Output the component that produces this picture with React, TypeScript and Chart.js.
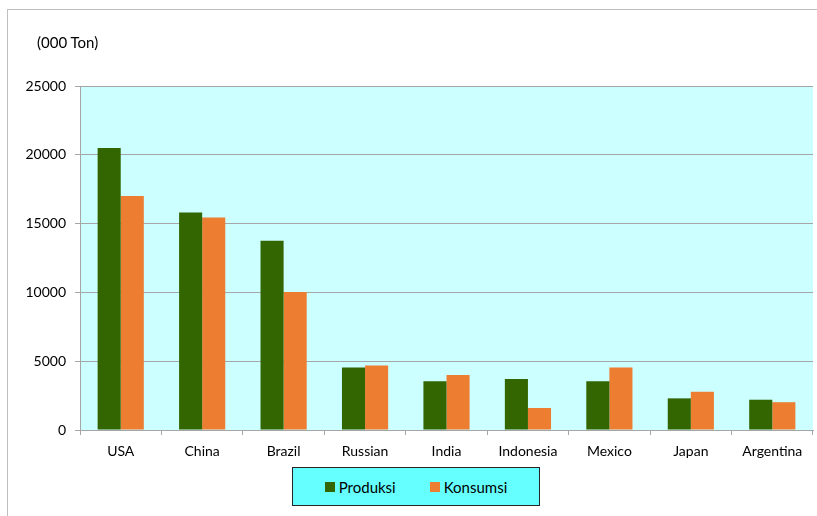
import React, { useEffect, useRef } from "react";
import { Chart, registerables } from "chart.js";

Chart.register(...registerables);

const categories = ["USA", "China", "Brazil", "Russian", "India", "Indonesia", "Mexico", "Japan", "Argentina"];
const produksi = [20500, 15800, 13750, 4550, 3550, 3700, 3550, 2300, 2200];
const konsumsi = [17000, 15450, 10030, 4680, 4000, 1600, 4550, 2780, 2020];
const seriesNames = ["Produksi", "Konsumsi"];
const seriesColors = ["#336600", "#ED7D31"];
const yTicks = [0, 5000, 10000, 15000, 20000, 25000];
const yTitle = "(000 Ton)";

const FONT = "Lato, 'Open Sans', sans-serif";

export default function App() {
  const ref = useRef<HTMLCanvasElement | null>(null);

  useEffect(() => {
    if (!ref.current) return;
    const bgPlugin = {
      id: "plotBg",
      beforeDraw(chart: any) {
        const { ctx, chartArea } = chart;
        ctx.save();
        ctx.fillStyle = "#CCFFFF";
        ctx.fillRect(chartArea.left, chartArea.top, chartArea.right - chartArea.left, chartArea.bottom - chartArea.top);
        ctx.restore();
      },
    };
    const chart = new Chart(ref.current, {
      type: "bar",
      data: {
        labels: categories,
        datasets: [
          { label: seriesNames[0], data: produksi, backgroundColor: seriesColors[0], categoryPercentage: 0.567, barPercentage: 1.0 },
          { label: seriesNames[1], data: konsumsi, backgroundColor: seriesColors[1], categoryPercentage: 0.567, barPercentage: 1.0 },
        ],
      },
      options: {
        responsive: false,
        animation: false,
        devicePixelRatio: 1,
        layout: { padding: { left: 0, top: 86, right: 4, bottom: 0 } },
        plugins: { legend: { display: false }, tooltip: { enabled: false }, title: { display: false } },
        scales: {
          x: {
            grid: { drawOnChartArea: false, drawTicks: true, tickLength: 5, color: "#A6A6A6", offset: true },
            border: { color: "#A6A6A6" },
            ticks: { color: "#000", font: { family: FONT, size: 14 }, padding: 8, maxRotation: 0, autoSkip: false },
            afterFit(scale: any) { scale.height = 86; },
          },
          y: {
            min: 0,
            max: 25000,
            afterBuildTicks(scale: any) { scale.ticks = yTicks.map((v) => ({ value: v })); },
            grid: { color: "#A6A6A6", tickLength: 5, drawTicks: true },
            border: { color: "#A6A6A6" },
            ticks: { color: "#000", font: { family: FONT, size: 14 }, padding: 9, callback: (v: any) => String(v) },
            afterFit(scale: any) { scale.width = 80; },
          },
        },
      },
      plugins: [bgPlugin],
    } as any);
    return () => chart.destroy();
  }, []);

  return (
    <div style={{ position: "fixed", left: 0, top: 0, width: 817, height: 516, background: "#fff", overflow: "hidden" }}>
      <div style={{ position: "absolute", left: 7, top: 9, right: -2, bottom: -2, borderLeft: "1px solid #BFBFBF", borderTop: "1px solid #BFBFBF" }} />
      <canvas ref={ref} width={817} height={516} style={{ position: "absolute", left: 0, top: 0, width: 817, height: 516 }} />
      <div style={{ position: "absolute", left: 37, top: 33, fontFamily: FONT, fontSize: 15, color: "#000", lineHeight: "18px", whiteSpace: "nowrap" }}>{yTitle}</div>
      <div style={{ position: "absolute", left: 292, top: 467, width: 246, height: 37, background: "#66FFFF", border: "1px solid #262626", display: "flex", alignItems: "center", justifyContent: "center", gap: 34, fontFamily: FONT, fontSize: 15, color: "#000" }}>
        {seriesNames.map((n, i) => (
          <div key={n} style={{ display: "flex", alignItems: "center", gap: 4 }}>
            <span style={{ display: "inline-block", width: 10, height: 10, background: seriesColors[i] }} />
            <span>{n}</span>
          </div>
        ))}
      </div>
    </div>
  );
}
